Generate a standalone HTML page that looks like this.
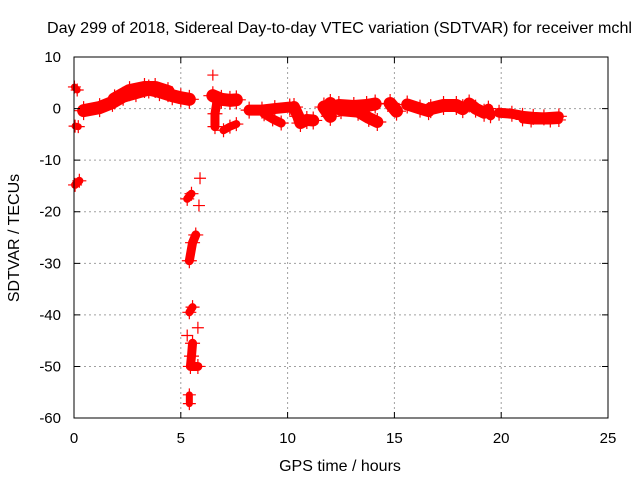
<!DOCTYPE html>
<html><head><meta charset="utf-8"><style>
body{margin:0;background:#fff;}
svg{display:block;font-family:"Liberation Sans",sans-serif;}
</style></head><body>
<svg id="chart" width="640" height="480" viewBox="0 0 640 480">
<rect width="640" height="480" fill="#fff"/>
<g id="grid"></g>
<g id="marks"></g>
<rect x="74" y="57" width="534" height="361" fill="none" stroke="#000" stroke-width="1"/>
<g id="ticks" font-size="15" fill="#000"></g>
<text x="47" y="33" textLength="585" lengthAdjust="spacingAndGlyphs" font-size="16">Day 299 of 2018, Sidereal Day-to-day VTEC variation (SDTVAR) for receiver mchl</text>
<text x="340" y="471" text-anchor="middle" font-size="16">GPS time / hours</text>
<text transform="translate(19,238) rotate(-90)" text-anchor="middle" font-size="16">SDTVAR / TECUs</text>
</svg>
<script>
const xTicks=[0,5,10,15,20,25];
const yTicks=[10,0,-10,-20,-30,-40,-50,-60];
const tracks=[
 [[0.02,4.2],[0.15,3.6]],
 [[0.05,-3.4],[0.2,-3.5]],
 [[0.05,-14.8],[0.25,-14]],
 [[0.45,-0.4],[1.2,0.2],[1.8,1.2],[2.3,2.4],[2.9,3.1],[3.5,3.8],[4.0,3.3],[4.6,2.5],[5.0,2.1],[5.4,1.8]],
 [[1.9,1.8],[2.6,3.4],[3.3,4.0],[3.8,4.0],[4.4,3.2]],
 [[5.3,-17.5],[5.5,-16.5]],[[5.9,-13.5]],[[5.85,-18.8]],
 [[5.4,-29.5],[5.55,-26],[5.7,-24.5]],
 [[5.4,-39.5],[5.55,-38.5]],[[5.3,-44]],[[5.8,-42.5]],
 [[5.55,-45.5],[5.5,-48],[5.45,-50],[5.8,-50]],
 [[5.4,-55.5],[5.4,-57.2]],
 [[6.5,6.5]],
 [[6.5,2.5],[6.9,1.8],[7.3,1.6],[7.6,1.7]],
 [[6.7,1.5],[6.6,-1],[6.6,-3.5]],
 [[7.0,-4.2],[7.3,-3.5],[7.6,-3]],
 [[8.2,-0.3],[8.8,-0.3],[9.4,0],[10.1,0.3]],
 [[8.9,-1],[9.3,-2],[9.7,-2.8]],
 [[10.3,0.3],[10.5,-1.5],[10.6,-2.8],[10.9,-2.2],[11.2,-2.3]],
 [[11.7,0.3],[12.0,-1.5],[12.0,1.0]],
 [[12.4,0.6],[13.1,0.4],[13.7,0.6],[14.1,0.9]],
 [[12.5,-0.3],[13.3,-0.6],[13.8,-1.8],[14.2,-2.6]],
 [[14.8,1.0],[15.1,-0.5]],[[15.6,0.8],[16.2,0],[16.6,-0.5]],
 [[16.7,0],[17.3,0.6],[17.9,0.6],[18.2,0]],
 [[18.5,1.0],[18.8,0],[19.2,-0.8]],[[19.4,0],[19.5,-1.3]],
 [[19.9,-0.8],[20.5,-1],[21,-1.4],[21.5,-1.6],[22,-1.7],[22.7,-1.5]],
 [[21,-2.1],[21.4,-2.3],[22.3,-2.3],[22.7,-2.2]]
];
const widths=[7,7,8,13,14,8,6,6,9,8,6,6,9,7,5,13,9,8,11,9,12,13,13,12,13,12,13,12,10,10,8];
const X=t=>74+t*534/25, Y=v=>108.6-v*361/70;
const ns="http://www.w3.org/2000/svg";
const grid=document.getElementById('grid'), ticks=document.getElementById('ticks'), marks=document.getElementById('marks');
xTicks.forEach(t=>{
 const x=X(t);
 if(t>0&&t<25){const l=document.createElementNS(ns,'line');
 
 
 l.setAttribute('x1',x);l.setAttribute('x2',x);l.setAttribute('y1',57);l.setAttribute('y2',418);
 l.setAttribute('stroke','#a0a0a0');l.setAttribute('stroke-dasharray','2,3');grid.appendChild(l);}
 const tk=document.createElementNS(ns,'path');
 
 
 tk.setAttribute('d',`M${x},418v-6M${x},57v6`);tk.setAttribute('stroke','#000');ticks.appendChild(tk);
 const tx=document.createElementNS(ns,'text');
 
 
 tx.setAttribute('x',x);tx.setAttribute('y',443);tx.setAttribute('text-anchor','middle');tx.textContent=t;ticks.appendChild(tx);
});
yTicks.forEach(v=>{
 const y=Y(v);
 if(v<10&&v>-60){const l=document.createElementNS(ns,'line');
 
 
 l.setAttribute('x1',74);l.setAttribute('x2',608);l.setAttribute('y1',y);l.setAttribute('y2',y);
 l.setAttribute('stroke','#a0a0a0');l.setAttribute('stroke-dasharray','2,3');grid.appendChild(l);}
 const tk=document.createElementNS(ns,'path');
 
 
 tk.setAttribute('d',`M74,${y}h6M608,${y}h-6`);tk.setAttribute('stroke','#000');ticks.appendChild(tk);
 const tx=document.createElementNS(ns,'text');
 
 
 tx.setAttribute('x',61);tx.setAttribute('y',y+5);tx.setAttribute('text-anchor','end');tx.textContent=v;ticks.appendChild(tx);
});
tracks.forEach((tr,i)=>{
 const p=document.createElementNS(ns,'polyline');
 
 
 p.setAttribute('points',tr.map(d=>X(d[0])+','+Y(d[1])).join(' '));
 p.setAttribute('fill','none');p.setAttribute('stroke','#f00');p.setAttribute('stroke-width',widths[i]);
 p.setAttribute('stroke-linecap','round');p.setAttribute('stroke-linejoin','round');
 marks.appendChild(p);
 tr.forEach(d=>{
  const m=document.createElementNS(ns,'path');
  
  
  const x=X(d[0]),y=Y(d[1]),r=widths[i]/2+3;
  m.setAttribute('d',`M${x-r},${y}h${2*r}M${x},${y-r}v${2*r}`);m.setAttribute('stroke','#f00');m.setAttribute('stroke-width',1.2);
  marks.appendChild(m);
 });
});
</script>
</body></html>
